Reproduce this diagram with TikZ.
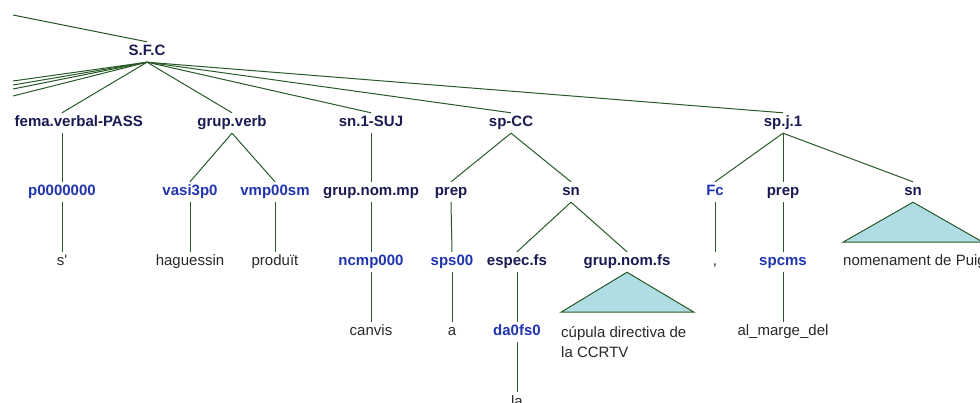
\documentclass[tikz,border=0pt]{standalone}
\usepackage{fontspec}
\setmainfont{Liberation Sans}
\definecolor{ntcol}{RGB}{26,26,82}
\definecolor{poscol}{RGB}{32,52,176}
\definecolor{wordcol}{RGB}{40,40,40}
\definecolor{edgecol}{RGB}{40,90,40}
\definecolor{tricol}{RGB}{176,221,228}

\begin{document}
\begin{tikzpicture}[x=1pt,y=-1pt,
  lab/.style={inner sep=0pt,minimum height=20pt,text height=11pt,text depth=3pt},
  nt/.style={lab,text=ntcol,font=\fontsize{15}{18}\selectfont\bfseries},
  postag/.style={lab,text=poscol,font=\fontsize{15}{18}\selectfont\bfseries},
  wordtxt/.style={inner sep=0pt,text=wordcol,font=\fontsize{15}{20}\selectfont},
  word/.style={lab,wordtxt},
  edge/.style={draw=edgecol,line width=1pt},
  tri/.style={edge,fill=tricol}]

\useasboundingbox (0,0) rectangle (980,403);
\clip (13,0) rectangle (980,403);

\node[nt] (sfc) at (147,52) {S.F.C};

\node[nt,anchor=east] (fema) at (143,123) {fema.verbal-PASS};
\node[nt] (grupverb) at (232,123) {grup.verb};
\node[nt] (snsuj) at (371,123) {sn.1-SUJ};
\node[nt] (spcc) at (511,123) {sp-CC};
\node[nt] (spj) at (783,123) {sp.j.1};

\node[postag] (p0) at (62,192) {p0000000};
\node[postag] (vasi) at (190,192) {vasi3p0};
\node[postag] (vmp) at (275,192) {vmp00sm};
\node[nt] (gnmp) at (371,192) {grup.nom.mp};
\node[nt] (prepa) at (451,192) {prep};
\node[nt] (sna) at (571,192) {sn};
\node[postag] (fc) at (715,192) {Fc};
\node[nt] (prepb) at (783,192) {prep};
\node[nt] (snb) at (913,192) {sn};

\node[word] (s) at (62,262) {s\textquotesingle};
\node[word] (hag) at (190,262) {haguessin};
\node[word] (prod) at (275,262) {produït};
\node[postag] (ncmp) at (371,262) {ncmp000};
\node[postag] (sps) at (452,262) {sps00};
\node[nt] (espec) at (517,262) {espec.fs};
\node[nt] (gnfs) at (627,262) {grup.nom.fs};
\node[word] (comma) at (715,262) {,};
\node[postag] (spcms) at (783,262) {spcms};
\node[word,anchor=west] (nomen) at (843,262) {nomenament de Puig};

\node[word] (canvis) at (371,332) {canvis};
\node[word] (a) at (452,332) {a};
\node[postag] (da0) at (517,332) {da0fs0};
\node[wordtxt,align=left,anchor=north west] (cupula) at (561,326) {cúpula directiva de\\la CCRTV};
\node[word] (almarge) at (783,332) {al\_marge\_del};

\node[word] (la) at (517,402) {la};

\coordinate (up) at (13,15);
\draw[edge] (up) -- (sfc.north);
\foreach \y [count=\i] in {81,85,89,96}{
  \coordinate (left\i) at (13,\y);
  \draw[edge] (sfc.south) -- (left\i);
}
\draw[edge] (sfc.south) -- (fema.north -| p0.north);
\foreach \c in {grupverb,snsuj,spcc,spj}
  \draw[edge] (sfc.south) -- (\c.north);

\draw[edge] (p0.north |- fema.south) -- (p0.north);
\draw[edge] (grupverb.south) -- (vasi.north);
\draw[edge] (grupverb.south) -- (vmp.north);
\draw[edge] (snsuj.south) -- (gnmp.north);
\draw[edge] (spcc.south) -- (prepa.north);
\draw[edge] (spcc.south) -- (sna.north);
\draw[edge] (spj.south) -- (fc.north);
\draw[edge] (spj.south) -- (prepb.north);
\draw[edge] (spj.south) -- (snb.north);

\draw[edge] (p0.south) -- (s.north);
\draw[edge] (vasi.south) -- (hag.north);
\draw[edge] (vmp.south) -- (prod.north);
\draw[edge] (gnmp.south) -- (ncmp.north);
\draw[edge] (prepa.south) -- (sps.north);
\draw[edge] (sna.south) -- (espec.north);
\draw[edge] (sna.south) -- (gnfs.north);
\draw[edge] (fc.south) -- (comma.north);
\draw[edge] (prepb.south) -- (spcms.north);
\draw[tri] (snb.south) -- ++(-70,40) -- ++(140,0) -- cycle;

\draw[edge] (ncmp.south) -- (canvis.north);
\draw[edge] (sps.south) -- (a.north);
\draw[edge] (espec.south) -- (da0.north);
\draw[tri] (gnfs.south) -- ++(-66,40) -- ++(133,0) -- cycle;
\draw[edge] (spcms.south) -- (almarge.north);

\draw[edge] (da0.south) -- (la.north);
\end{tikzpicture}
\end{document}
